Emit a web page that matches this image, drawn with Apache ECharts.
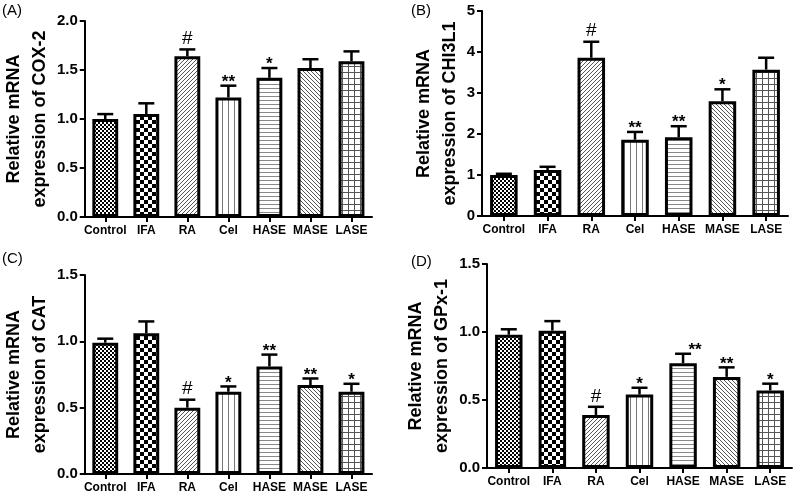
<!DOCTYPE html>
<html><head><meta charset="utf-8">
<script src="https://cdn.jsdelivr.net/npm/echarts@6/dist/echarts.min.js"></script>
<style>html,body{margin:0;padding:0;background:#fff}#c{width:797px;height:494px}</style>
</head><body><div id="c"></div>
<script>
// ---- data ----
const categories = ['Control','IFA','RA','Cel','HASE','MASE','LASE'];

const cox2Mean = [1.00, 1.05, 1.64, 1.22, 1.42, 1.52, 1.59];
const cox2Top  = [1.05, 1.16, 1.71, 1.34, 1.52, 1.61, 1.69];
const cox2Sig  = ['', '', '#', '**', '*', '', ''];
const cox2Ticks = [0, 0.5, 1.0, 1.5, 2.0];

const chi3l1Mean = [1.00, 1.12, 3.86, 1.86, 1.92, 2.80, 3.57];
const chi3l1Top  = [1.03, 1.20, 4.25, 2.05, 2.19, 3.09, 3.86];
const chi3l1Sig  = ['', '', '#', '**', '**', '*', ''];
const chi3l1Ticks = [0, 1, 2, 3, 4, 5];

const catMean = [0.99, 1.06, 0.50, 0.62, 0.81, 0.67, 0.62];
const catTop  = [1.02, 1.15, 0.56, 0.66, 0.90, 0.72, 0.68];
const catSig  = ['', '', '#', '*', '**', '**', '*'];
const catTicks = [0, 0.5, 1.0, 1.5];

const gpxMean = [0.98, 1.01, 0.39, 0.54, 0.77, 0.67, 0.57];
const gpxTop  = [1.02, 1.08, 0.45, 0.59, 0.84, 0.74, 0.62];
const gpxSig  = ['', '', '#', '*', '**', '**', '*'];
const gpxTicks = [0, 0.5, 1.0, 1.5];

// ---- styling ----
const FONT = '"Liberation Sans", Arial, Helvetica, sans-serif';

function tile(w, h, draw) {
  const c = document.createElement('canvas');
  c.width = w; c.height = h;
  const g = c.getContext('2d');
  g.fillStyle = '#fff'; g.fillRect(0, 0, w, h);
  draw(g);
  return c;
}
const patterns = [
  tile(4, 4, g => { g.fillStyle = '#000'; g.fillRect(0,0,2,2); g.fillRect(2,2,2,2); }),
  tile(8, 8, g => { g.fillStyle = '#000'; g.fillRect(0,0,4,4); g.fillRect(4,4,4,4); }),
  tile(4, 4, g => { g.fillStyle = '#555'; for (let i=0;i<4;i++) g.fillRect(i,3-i,1,1); }),
  tile(6, 6, g => { g.fillStyle = '#777'; g.fillRect(0,0,1,6); }),
  tile(4, 4, g => { g.fillStyle = '#888'; g.fillRect(0,0,4,1); }),
  tile(4, 4, g => { g.fillStyle = '#555'; for (let i=0;i<4;i++) g.fillRect(i,i,1,1); }),
  tile(6, 6, g => { g.fillStyle = '#555'; g.fillRect(0,0,1,6); g.fillRect(0,0,6,1); })
];

const panels = [
  { label:'(A)', gene:'COX-2',  mean:cox2Mean,  top:cox2Top,  sig:cox2Sig,  ticks:cox2Ticks,  dec:1,
    grid:{left:80, top:21, width:292, height:196}, nameGap:23, lab:{x:2, y:3}, sigShift:[0,0,0,0,0,0,0] },
  { label:'(B)', gene:'CHI3L1', mean:chi3l1Mean, top:chi3l1Top, sig:chi3l1Sig, ticks:chi3l1Ticks, dec:0,
    grid:{left:482, top:11, width:306, height:205}, nameGap:12, lab:{x:411, y:3}, sigShift:[0,0,0,0,0,0,0] },
  { label:'(C)', gene:'CAT',    mean:catMean,   top:catTop,   sig:catSig,   ticks:catTicks,   dec:1,
    grid:{left:79, top:275, width:293, height:200}, nameGap:22, lab:{x:2, y:251}, sigShift:[0,0,0,0,0,0,0] },
  { label:'(D)', gene:'GPx-1',  mean:gpxMean,   top:gpxTop,   sig:gpxSig,   ticks:gpxTicks,   dec:1,
    grid:{left:487, top:264, width:305, height:204}, nameGap:18, lab:{x:411, y:254}, sigShift:[0,0,0,0,12,0,0] }
];

const grids = [], xAxes = [], yAxes = [], series = [], graphics = [];
panels.forEach((p, k) => {
  grids.push(Object.assign({containLabel:false}, p.grid));
  xAxes.push({
    type:'category', gridIndex:k, data:categories,
    axisLine:{show:true, lineStyle:{color:'#000', width:2}},
    axisTick:{show:true, alignWithLabel:true, length:5, lineStyle:{color:'#000', width:2}},
    axisLabel:{color:'#000', fontWeight:'bold', fontSize:12, fontFamily:FONT, margin:8, interval:0}
  });
  const t = p.ticks;
  yAxes.push({
    type:'value', gridIndex:k, min:t[0], max:t[t.length-1], interval:t[1]-t[0],
    splitLine:{show:false},
    axisLine:{show:true, lineStyle:{color:'#000', width:2}},
    axisTick:{show:true, length:5, lineStyle:{color:'#000', width:2}},
    axisLabel:{color:'#000', fontWeight:'bold', fontSize:15, fontFamily:FONT, margin:7,
      formatter: v => v.toFixed(p.dec)},
    name:'Relative mRNA\nexpression of ' + p.gene,
    nameLocation:'middle', nameRotate:90, nameGap:p.nameGap,
    nameTextStyle:{color:'#000', fontWeight:'bold', fontSize:18, lineHeight:26, fontFamily:FONT}
  });
  series.push({
    type:'bar', xAxisIndex:k, yAxisIndex:k, barWidth:'63%', z:3, silent:true,
    data: p.mean.map((v, i) => ({
      value:v,
      itemStyle:{ color:{image:patterns[i], repeat:'repeat'}, borderColor:'#000', borderWidth:3 }
    }))
  });
  series.push({
    type:'custom', xAxisIndex:k, yAxisIndex:k, z:2, silent:true,
    data: p.mean.map((v, i) => [i, v, p.top[i]]),
    renderItem: (params, api) => {
      const i = api.value(0);
      const b = api.coord([i, api.value(1)]);
      const tp = api.coord([i, api.value(2)]);
      const cap = 8;
      const ch = [
        {type:'line', shape:{x1:b[0], y1:b[1], x2:tp[0], y2:tp[1]}, style:{stroke:'#000', lineWidth:2.5}},
        {type:'line', shape:{x1:tp[0]-cap, y1:tp[1], x2:tp[0]+cap, y2:tp[1]}, style:{stroke:'#000', lineWidth:2.5}}
      ];
      const s = p.sig[i];
      if (s) {
        const isHash = s === '#';
        ch.push({type:'text', z2:10, style:{
          text:s, x:tp[0] + p.sigShift[i], y: isHash ? tp[1] - 1 : tp[1] + 5,
          textAlign:'center', textVerticalAlign:'bottom',
          font: (isHash ? 'normal 19px ' : 'bold 17px ') + FONT, fill:'#000'
        }});
      }
      return {type:'group', children:ch};
    }
  });
  graphics.push({type:'text', left:p.lab.x, top:p.lab.y, style:{text:p.label, font:'normal 15px ' + FONT, fill:'#000'}});
});

const chart = echarts.init(document.getElementById('c'), null, {renderer:'canvas'});
chart.setOption({
  animation:false,
  backgroundColor:'#fff',
  grid:grids, xAxis:xAxes, yAxis:yAxes, series:series, graphic:graphics
});
</script>
</body></html>
